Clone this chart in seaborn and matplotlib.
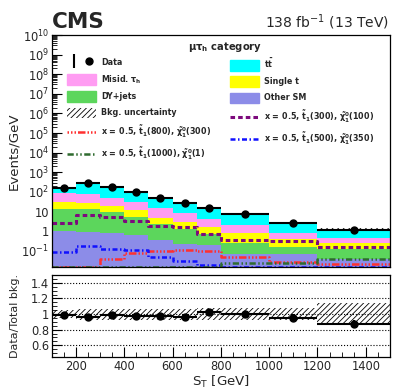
import numpy as np
import matplotlib
matplotlib.use("Agg")
import matplotlib.pyplot as plt
from matplotlib.patches import Patch
from matplotlib.lines import Line2D
from matplotlib.legend_handler import HandlerTuple
from matplotlib.ticker import LogLocator, FuncFormatter, MultipleLocator, NullFormatter
import seaborn as sns

# S_T binning [GeV]
edges = [100, 200, 300, 400, 500, 600, 700, 800, 1000, 1200, 1500]

# observed data (events / GeV) and its uncertainty
data = [150, 270, 182, 94, 50, 25.8, 14.5, 7.15, 2.5, 1.12]
data_err = [1.2, 1.6, 1.3, 1.0, 0.7, 0.5, 0.38, 0.19, 0.11, 0.061]

# background processes (events / GeV)
other_sm = [1.0, 0.88, 0.78, 0.62, 0.36, 0.235, 0.19, 0.072, 0.065, 0.04]
dy_jets = [12, 12, 8.8, 4.8, 2.1, 1.13, 0.57, 0.19, 0.085, 0.08]
single_t = [16, 15, 10, 6.4, 2.5, 1.6, 0.9, 0.55, 0.24, 0.12]
misid_tau = [55, 47, 30, 19, 9.4, 5.0, 2.5, 1.2, 0.43, 0.22]
ttbar = [67, 205, 134, 66, 37, 19, 9.9, 5.1, 1.8, 0.82]

# relative background uncertainty
bkg_unc = [0.05, 0.07, 0.07, 0.07, 0.07, 0.07, 0.08, 0.08, 0.08, 0.14]

# signal benchmarks (events / GeV)
sig_300_100 = [2.5, 6.5, 5.2, 3.4, 1.9, 1.55, 0.69, 0.34, 0.31, 0.16]
sig_800_300 = [0.0148, 0.0148, 0.037, 0.073, 0.099, 0.105, 0.1, 0.049, 0.027, 0.022]
sig_500_350 = [0.088, 0.18, 0.13, 0.107, 0.046, 0.031, 0.019, 0.0155, 0.0155, 0.0155]
sig_1000_1 = [0.0152, 0.0152, 0.0152, 0.0152, 0.0152, 0.0152, 0.0152, 0.024, 0.025, 0.036]

sns.set_theme(style="ticks")
plt.rcParams["font.family"] = ["DejaVu Sans"]
plt.rcParams["mathtext.default"] = "regular"
plt.rcParams["hatch.linewidth"] = 0.6
plt.rcParams["hatch.color"] = "black"
plt.rcParams["axes.edgecolor"] = "black"
plt.rcParams["axes.linewidth"] = 0.9

edges_a = np.array(edges, dtype=float)
centers = (edges_a[:-1] + edges_a[1:]) / 2
halfw = np.diff(edges_a) / 2

fig = plt.figure(figsize=(4.11, 3.92), dpi=100)
ax = fig.add_axes([0.1258, 0.319, 0.823, 0.5917])
rax = fig.add_axes([0.1258, 0.0893, 0.823, 0.2092], sharex=ax)

layers = [
    ("Other SM", other_sm, "#8c8ce8"),
    ("DY+jets", dy_jets, "#5cd65c"),
    ("Single t", single_t, "#ffff00"),
    (r"Misid. $\tau_{h}$", misid_tau, "#ff9cf2"),
    (r"$\mathbf{t\bar{t}}$", ttbar, "#00ffff"),
]
cum = np.cumsum([np.array(v, dtype=float) for _, v, _ in layers], axis=0)
total = cum[-1]

# stacked backgrounds: paint the tallest cumulative first, smaller ones over it
for i in reversed(range(len(layers))):
    ax.stairs(cum[i], edges_a, baseline=1e-4, fill=True, color=layers[i][2], linewidth=0)

unc = np.array(bkg_unc)
lo = total * (1 - unc)
hi = total * (1 + unc)
ax.fill_between(edges_a, np.append(lo, lo[-1]), np.append(hi, hi[-1]), step="post",
                facecolor="none", hatch="//////", edgecolor="black", linewidth=0)

signals = [
    (sig_300_100, "#7d0a7d", (0, (1.5, 1.0)), 2.2,
     r"x = 0.5, $\mathbf{\tilde{t}_{1}}$(300), $\tilde{\chi}^{0}_{1}$(100)"),
    (sig_800_300, "#ff3030", (0, (0.6, 0.8, 0.6, 0.8, 0.6, 0.8, 3, 0.8)), 1.8,
     r"x = 0.5, $\mathbf{\tilde{t}_{1}}$(800), $\tilde{\chi}^{0}_{1}$(300)"),
    (sig_500_350, "#1010ff", (0, (2, 1, 0.6, 1)), 1.8,
     r"x = 0.5, $\mathbf{\tilde{t}_{1}}$(500), $\tilde{\chi}^{0}_{1}$(350)"),
    (sig_1000_1, "#2f6b2f", (0, (2.5, 1, 0.6, 1, 0.6, 1)), 1.8,
     r"x = 0.5, $\mathbf{\tilde{t}_{1}}$(1000), $\tilde{\chi}^{0}_{1}$(1)"),
]
for vals, col, ls, lw, _ in signals:
    sns.histplot(x=centers, weights=vals, bins=edges, element="step", fill=False,
                 color=col, linestyle=ls, linewidth=lw, ax=ax)

ax.errorbar(centers, data, xerr=halfw, yerr=data_err, fmt="o", color="black",
            ms=5, lw=1.5, capsize=0, zorder=10)

ax.set_yscale("log")
ax.set_ylim(0.015, 1e10)
ax.set_xlim(100, 1500)


def log_fmt(v, pos):
    n = int(round(np.log10(v)))
    if n == 0:
        return "1"
    if n == 1:
        return "10"
    return r"$10^{%d}$" % n


ax.yaxis.set_major_locator(LogLocator(base=10, numticks=20))
ax.yaxis.set_minor_locator(LogLocator(base=10, subs=np.arange(2, 10), numticks=200))
ax.yaxis.set_major_formatter(FuncFormatter(log_fmt))
ax.yaxis.set_minor_formatter(NullFormatter())
ax.set_ylabel("Events/GeV", fontsize=9.6)
ax.yaxis.set_label_coords(-0.094, 0.5)
ax.set_xlabel("")
ax.tick_params(axis="both", which="both", direction="in", labelbottom=False,
               labelsize=8.3, color="black", pad=2)
ax.tick_params(which="major", length=7, width=0.8)
ax.tick_params(which="minor", length=3.5, width=0.6)

# legends
fs = 5.8
h_data = (Line2D([], [], marker="|", ms=10, mew=1.5, color="black", linestyle="none"),
          Line2D([], [], marker="o", ms=5, color="black", linestyle="none"))
h_unc = Patch(facecolor="white", hatch="//////", edgecolor="black", linewidth=0)
sig_h = [Line2D([], [], color=c, linestyle=ls, linewidth=lw) for _, c, ls, lw, _ in signals]
left_h = [h_data, Patch(color=layers[3][2]), Patch(color=layers[1][2]), h_unc, sig_h[1], sig_h[3]]
left_l = ["Data", layers[3][0], "DY+jets", "Bkg. uncertainty", signals[1][4], signals[3][4]]
right_h = [Patch(color=layers[4][2]), Patch(color=layers[2][2]), Patch(color=layers[0][2]),
           sig_h[0], sig_h[2]]
right_l = [layers[4][0], "Single t", "Other SM", signals[0][4], signals[2][4]]

common = dict(loc="upper left", frameon=False, borderpad=0, borderaxespad=0,
              handlelength=3.6, handleheight=1.6, labelspacing=0.72, handletextpad=0.6,
              prop={"size": fs, "weight": "bold"},
              handler_map={tuple: HandlerTuple(ndivide=None)})
leg1 = ax.legend(left_h, left_l, bbox_to_anchor=(0.045, 0.905), **common)
ax.add_artist(leg1)
ax.legend(right_h, right_l, bbox_to_anchor=(0.527, 0.905), **common)
ax.text(0.512, 0.95, r"$\mu\tau_{h}$ category", transform=ax.transAxes,
        ha="center", va="center", fontsize=7.2, fontweight="bold")

# ratio panel
ratio = np.array(data) / total
ratio_err = np.array(data_err) / total
rax.fill_between(edges_a, np.append(1 - unc, 1 - unc[-1]), np.append(1 + unc, 1 + unc[-1]),
                 step="post", facecolor="none", hatch="//////", edgecolor="black", linewidth=0)
rax.errorbar(centers, ratio, xerr=halfw, yerr=ratio_err, fmt="o", color="black",
             ms=5, lw=1.5, capsize=0, zorder=10)
rax.set_ylim(0.45, 1.5)
rax.set_xlim(100, 1500)
rax.yaxis.set_major_locator(MultipleLocator(0.2))
rax.yaxis.set_minor_locator(MultipleLocator(0.05))
rax.yaxis.set_major_formatter(FuncFormatter(lambda v, p: "%g" % round(v, 2)))
rax.xaxis.set_major_locator(MultipleLocator(200))
rax.xaxis.set_minor_locator(MultipleLocator(50))
rax.grid(axis="y", which="major", linestyle=":", color="black", linewidth=0.8)
rax.tick_params(axis="both", which="both", direction="in", labelsize=8.3, color="black", pad=2)
rax.tick_params(which="major", length=7, width=0.8)
rax.tick_params(which="minor", length=3.5, width=0.6)
rax.set_ylabel("Data/Total bkg.", fontsize=8)
rax.yaxis.set_label_coords(-0.094, 0.5)
rax.set_xlabel(r"S$_{T}$ [GeV]", fontsize=9.6, labelpad=1)

fig.text(52 / 411, 1 - 28 / 392, "CMS", fontsize=15.5, fontweight="bold", ha="left", va="baseline")
fig.text(389 / 411, 1 - 28 / 392, r"138 fb$^{-1}$ (13 TeV)", fontsize=10, ha="right", va="baseline")

fig.savefig("out.png", dpi=100)
